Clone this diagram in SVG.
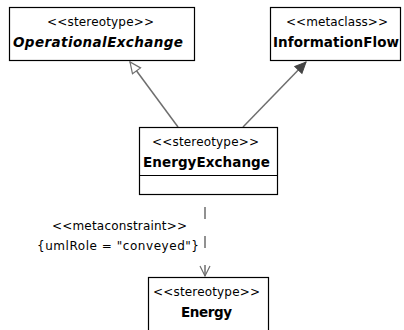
<svg xmlns="http://www.w3.org/2000/svg" width="404" height="330" viewBox="0 0 404 330">
<defs>
<style>
.box{fill:#fff;stroke:#000;stroke-width:1.2}
.st{font-family:"DejaVu Sans","Liberation Sans",sans-serif;font-size:12px;fill:#000;text-anchor:middle}
.nm{font-family:"DejaVu Sans","Liberation Sans",sans-serif;font-size:13.5px;font-weight:bold;fill:#000;text-anchor:middle}
.lbl{font-family:"DejaVu Sans","Liberation Sans",sans-serif;font-size:12px;fill:#000;text-anchor:middle}
.conn{fill:none;stroke:#6e6e6e;stroke-width:1.5}
</style>
<marker id="gen" markerWidth="14" markerHeight="14" refX="12" refY="6" orient="auto" markerUnits="userSpaceOnUse">
<path d="M1,1 L12,6 L1,11 Z" fill="#fff" stroke="#6e6e6e" stroke-width="1.2"/>
</marker>
<marker id="fill" markerWidth="14" markerHeight="14" refX="12" refY="6" orient="auto" markerUnits="userSpaceOnUse">
<path d="M1,1 L12,6 L1,11 Z" fill="#444" stroke="#444" stroke-width="1"/>
</marker>
<marker id="open" markerWidth="14" markerHeight="14" refX="11" refY="6" orient="auto" markerUnits="userSpaceOnUse">
<path d="M1,1 L11,6 L1,11" fill="none" stroke="#6e6e6e" stroke-width="1.2"/>
</marker>
</defs>
<g id="connectors">
<line class="conn" x1="178" y1="127" x2="130" y2="62" marker-end="url(#gen)"/>
<line class="conn" x1="243" y1="127" x2="306" y2="62" marker-end="url(#fill)"/>
<line class="conn" x1="205" y1="196" x2="205" y2="276" stroke-dasharray="12 17" stroke-dashoffset="18" marker-end="url(#open)"/>
<text class="lbl" x="119.5" y="230" textLength="135" lengthAdjust="spacing">&lt;&lt;metaconstraint&gt;&gt;</text>
<text class="lbl" x="118" y="250" textLength="162" lengthAdjust="spacing">{umlRole = "conveyed"}</text>
</g>
<g id="OperationalExchange">
<rect class="box" x="9.5" y="7.5" width="185" height="53"/>
<text class="st" x="100.5" y="26" textLength="107" lengthAdjust="spacing">&lt;&lt;stereotype&gt;&gt;</text>
<text class="nm" x="98" y="47" font-style="italic" textLength="170" lengthAdjust="spacing">OperationalExchange</text>
</g>
<g id="InformationFlow">
<rect class="box" x="270.5" y="7.5" width="130" height="53"/>
<text class="st" x="337" y="26" textLength="102" lengthAdjust="spacing">&lt;&lt;metaclass&gt;&gt;</text>
<text class="nm" x="336" y="47" textLength="126" lengthAdjust="spacing">InformationFlow</text>
</g>
<g id="EnergyExchange">
<rect class="box" x="139.5" y="127.5" width="138" height="67"/>
<line x1="139.5" y1="175.5" x2="277.5" y2="175.5" stroke="#000" stroke-width="1.2"/>
<text class="st" x="205.5" y="146" textLength="107" lengthAdjust="spacing">&lt;&lt;stereotype&gt;&gt;</text>
<text class="nm" x="206.5" y="167" textLength="127" lengthAdjust="spacing">EnergyExchange</text>
</g>
<g id="Energy">
<rect class="box" x="148.5" y="277.5" width="120" height="60"/>
<text class="st" x="206.5" y="296" textLength="107" lengthAdjust="spacing">&lt;&lt;stereotype&gt;&gt;</text>
<text class="nm" x="206.5" y="317" textLength="51" lengthAdjust="spacing">Energy</text>
</g>
</svg>
